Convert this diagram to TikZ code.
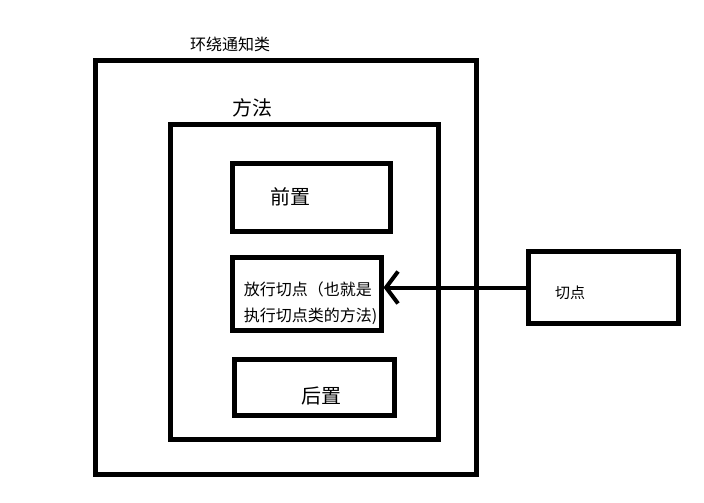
\documentclass[tikz,border=0pt]{standalone}
\usepackage{fontspec}
\setmainfont{Noto Sans CJK SC}
\usetikzlibrary{arrows.meta}

\tikzset{
  box/.style={draw, line width=5pt, rectangle, inner sep=0pt},
  lbl/.style={inner sep=0pt, font=\fontsize{#1}{#1}\selectfont},
  lbl/.default=20
}

\begin{document}
\begin{tikzpicture}[x=1pt, y=-1pt]
\useasboundingbox (0,0) rectangle (704,503);
% boxes
\node [box, minimum width=381.5pt, minimum height=414pt] (around) at (286,267.5) {};
\node [box, minimum width=268pt, minimum height=314.5pt] (method) at (304.5,282) {};
\node [box, minimum width=158pt, minimum height=68pt] (before) at (311,197) {};
\node [box, minimum width=148.5pt, minimum height=73.5pt] (proceed) at (306.75,293.75) {};
\node [box, minimum width=160pt, minimum height=56pt] (after) at (314.5,387.5) {};
\node [box, minimum width=150pt, minimum height=72pt] (jp) at (603.5,287.5) {};
% texts
\node [lbl=16] (aroundtxt) at (230,44) {环绕通知类};
\node [lbl] (methodtxt) at (252,108) {方法};
\node [lbl] (beforetxt) at (290,197) {前置};
\node [lbl=16, align=left, text depth=0pt] (proceedtxt) at (310.5,302)
  {放行切点（也就是\\[10pt]执行切点类的方法)};
\node [lbl] (aftertxt) at (321,396) {后置};
\node [lbl=15] (jptxt) at (570,293) {切点};
% arrow
\draw [line width=4pt, -{Straight Barb[length=12pt, width=32pt]}]
  (jp.west) -- (jp.west -| proceed.east);
\end{tikzpicture}
\end{document}
